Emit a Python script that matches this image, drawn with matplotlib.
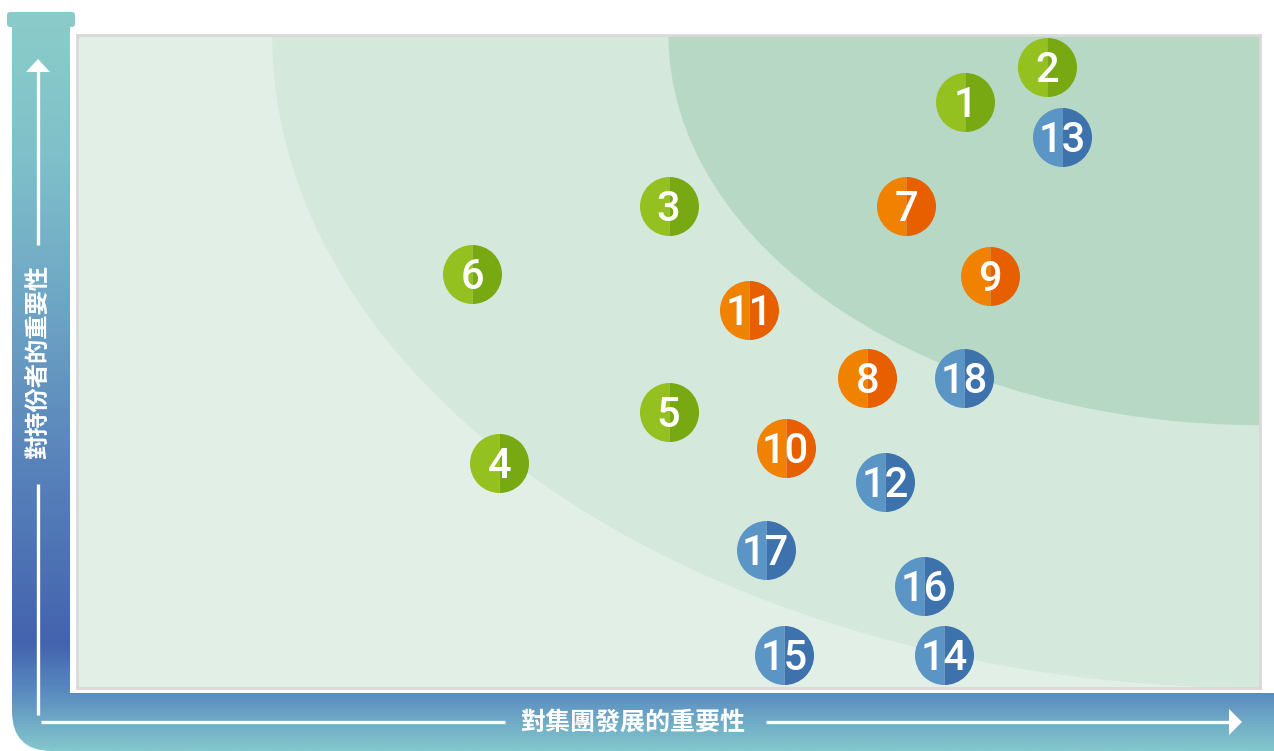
"""Materiality matrix: importance to the group vs importance to stakeholders."""
import numpy as np
import matplotlib
matplotlib.use("Agg")
import matplotlib.pyplot as plt
from matplotlib.colors import LinearSegmentedColormap
from matplotlib.patches import Ellipse, FancyBboxPatch, PathPatch, Polygon
from matplotlib.path import Path

# --- data (0-100 on both axes) -------------------------------------------------
labels = ["1", "2", "3", "4", "5", "6",
          "7", "8", "9", "10", "11",
          "12", "13", "14", "15", "16", "17", "18"]
x_group = [75.1, 82.0, 50.0, 35.7, 50.0, 33.4,
           70.1, 66.8, 77.2, 59.9, 56.8,
           68.3, 83.3, 73.3, 59.8, 71.6, 58.2, 75.0]
y_stake = [89.7, 95.1, 73.8, 34.5, 42.3, 63.4,
           73.8, 47.5, 63.1, 36.8, 57.9,
           31.5, 84.4, 5.1, 5.1, 15.6, 21.1, 47.5]
category = ["env"] * 6 + ["soc"] * 5 + ["gov"] * 7

X_LABEL = "對集團發展的重要性"
Y_LABEL = "對持份者的重要性"

# --- style ---------------------------------------------------------------------
W, H = 1274, 751
CAT_COLORS = {"env": ("#94c11f", "#78a913"),
              "soc": ("#f18200", "#e85f00"),
              "gov": ("#5b95c5", "#3d72ad")}
ZONE_LIGHT, ZONE_MID, ZONE_DARK = "#e2efe7", "#d4e8dc", "#b6d8c5"
MID_ZONE = (167.0, 200.0)      # full ellipse width/height, centred top-right
DARK_ZONE = (100.0, 119.5)
CJK = ["Noto Sans CJK TC", "DejaVu Sans"]

fig = plt.figure(figsize=(W / 100, H / 100), dpi=100)
fig.patch.set_facecolor("white")

# background axes in pixel coordinates for the L-shaped frame
bg = fig.add_axes([0, 0, 1, 1])
bg.set_xlim(0, W)
bg.set_ylim(H, 0)
bg.axis("off")

stops = [(0, "#8ccdc9"), (150, "#80c1ca"), (300, "#6ea6c5"), (460, "#5984bb"),
         (645, "#4363ae"), (695, "#5a8cc0"), (H, "#84c7cc")]
cmap = LinearSegmentedColormap.from_list("bar", [(y / H, c) for y, c in stops])
grad = np.linspace(0, 1, H)[:, None]

L_path = Path([(12, 27), (70, 27), (70, 693), (W, 693), (W, H),
               (52, H), (12, H), (12, 711), (12, 27)],
              [Path.MOVETO, Path.LINETO, Path.LINETO, Path.LINETO, Path.LINETO,
               Path.LINETO, Path.CURVE3, Path.CURVE3, Path.CLOSEPOLY])
L_patch = PathPatch(L_path, fc="none", ec="none", transform=bg.transData)
cap = FancyBboxPatch((7, 12), 68, 15, boxstyle="round,pad=0,rounding_size=3",
                     fc="none", ec="none", transform=bg.transData)
for clip in (L_patch, cap):
    bg.add_patch(clip)
    im = bg.imshow(grad, extent=(0, W, H, 0), aspect="auto", cmap=cmap,
                   vmin=0, vmax=1, interpolation="bilinear")
    im.set_clip_path(clip)

# white axis arrows
bg.plot([38, 38], [70, 245], color="white", lw=2.4, solid_capstyle="butt")
bg.plot([38, 38], [484, 715], color="white", lw=2.4, solid_capstyle="butt")
bg.add_patch(Polygon([(38, 59), (26, 72), (50, 72)], fc="white", ec="none"))
bg.plot([41, 505], [722, 722], color="white", lw=2.4, solid_capstyle="butt")
bg.plot([766, 1230], [722, 722], color="white", lw=2.4, solid_capstyle="butt")
bg.add_patch(Polygon([(1242, 722), (1229, 709), (1229, 735)], fc="white", ec="none"))

bg.text(633, 723, X_LABEL, color="white", fontsize=18, fontweight="bold",
        family=CJK, ha="center", va="center")
bg.text(39, 362, Y_LABEL, color="white", fontsize=17.5, fontweight="bold",
        family=CJK, ha="center", va="center", rotation=90)

# --- matrix panel --------------------------------------------------------------
ax = fig.add_axes([77 / W, (H - 688) / H, 1183 / W, 653 / H])
ax.set_xlim(0, 100)
ax.set_ylim(0, 100)
ax.set_facecolor(ZONE_LIGHT)
ax.set_xticks([])
ax.set_yticks([])
for s in ax.spines.values():
    s.set_color("#d9d9d9")
    s.set_linewidth(2.0)

ax.add_patch(Ellipse((100, 100), *MID_ZONE, fc=ZONE_MID, ec="none", zorder=0))
ax.add_patch(Ellipse((100, 100), *DARK_ZONE, fc=ZONE_DARK, ec="none", zorder=0))

for lab, x, y, cat in zip(labels, x_group, y_stake, category):
    light, dark = CAT_COLORS[cat]
    ax.plot(x, y, "o", ms=42.5, mew=0, fillstyle="left", mfc=light,
            mfcalt=dark, zorder=3, clip_on=False)
    ax.annotate(lab, (x, y), xytext=(0, -10.8), textcoords="offset points",
                color="white", fontsize=30, fontweight="medium",
                family=["Roboto", "Liberation Sans"], ha="center",
                va="baseline", zorder=4)

fig.savefig("out.png", dpi=100)
